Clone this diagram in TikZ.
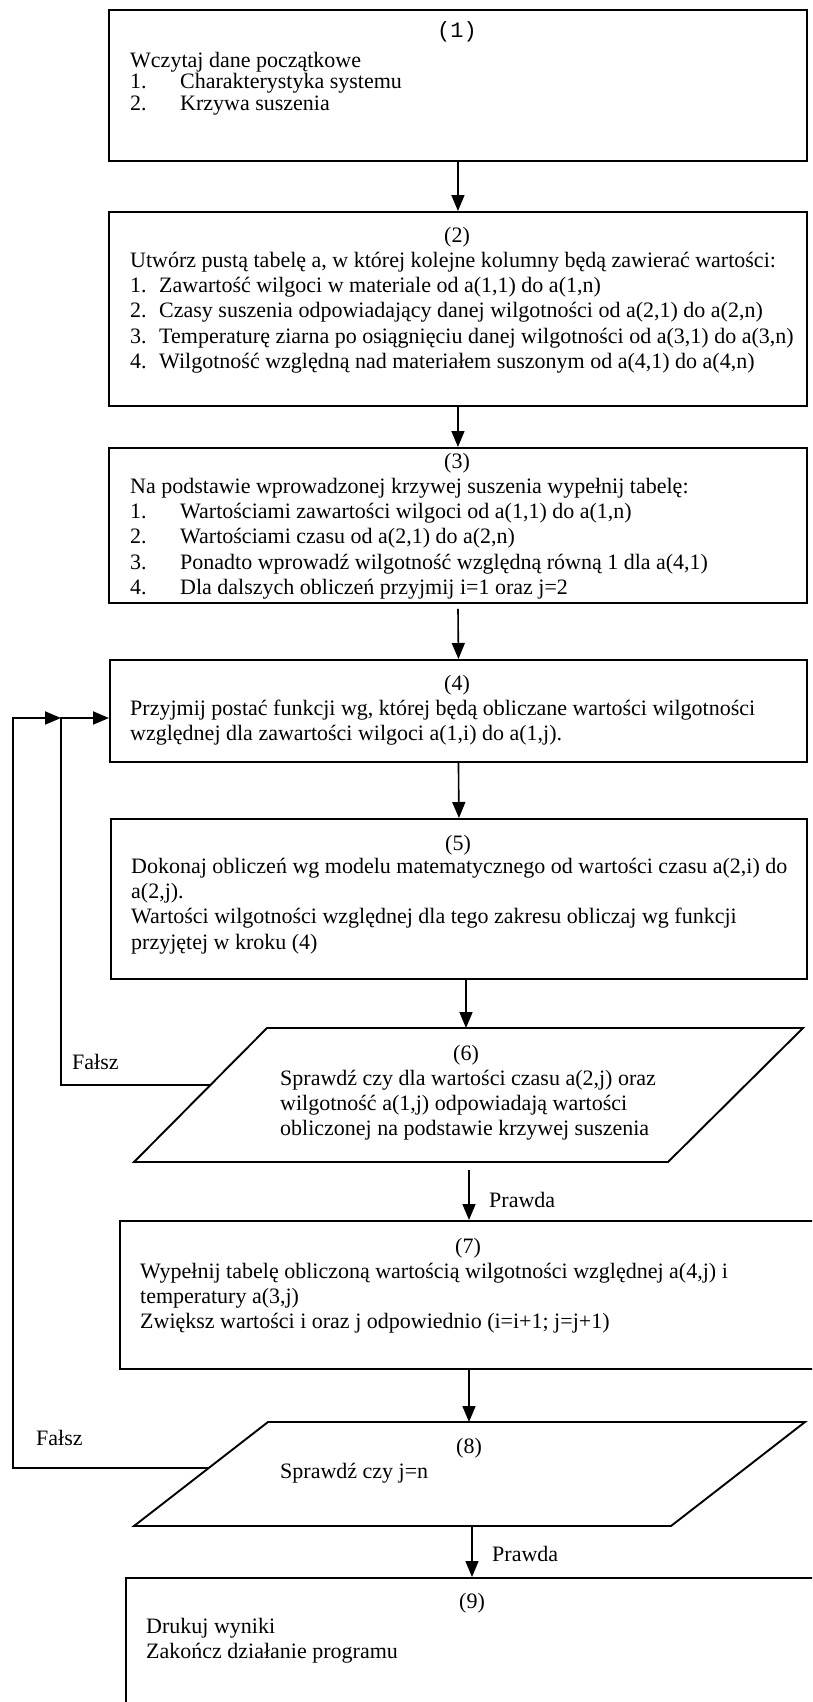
\documentclass[tikz,border=0pt]{standalone}
\usepackage{fontspec}
\setmainfont{Liberation Serif}
\newfontfamily\monofont{Liberation Mono}
\usetikzlibrary{arrows.meta,calc}
\newcommand\titem[1]{\makebox[50pt][l]{#1}}
\newcommand\sitem[1]{\makebox[29pt][l]{#1}}
\begin{document}
\begin{tikzpicture}[x=1pt,y=-1pt,
  box/.style={draw, line width=1.9pt, inner sep=0, anchor=north west},
  txt/.style={anchor=north west, align=left, inner sep=0, font=\fontsize{22}{25.2}\selectfont},
  lbl/.style={inner sep=0, font=\fontsize{22}{25.2}\selectfont},
  arr/.style={line width=1.6pt, -{Triangle[length=16pt,width=13pt]}},
  para/.style={line width=1.9pt}]
\useasboundingbox (0,0) rectangle (812,1702);
\clip (0,0) rectangle (812,1702);

% boxes
\node[box, minimum width=698pt, minimum height=151pt] (b1) at (108,9) {};
\node[box, minimum width=698pt, minimum height=194pt] (b2) at (108,211) {};
\node[box, minimum width=698pt, minimum height=155pt] (b3) at (108,447) {};
\node[box, minimum width=697pt, minimum height=102pt] (b4) at (109,659) {};
\node[box, minimum width=696pt, minimum height=160pt] (b5) at (110,818) {};
\node[box, minimum width=698pt, minimum height=148pt] (b7) at (119,1220) {};
\node[box, minimum width=694pt, minimum height=160pt] (b9) at (125,1577) {};

% parallelograms
\coordinate (p6a) at (267,1028); \coordinate (p6b) at (803,1028);
\coordinate (p6c) at (668,1162); \coordinate (p6d) at (134,1162);
\draw[para] (p6a) -- (p6b) -- (p6c) -- (p6d) -- cycle;
\coordinate (p8a) at (268,1422); \coordinate (p8b) at (805,1422);
\coordinate (p8c) at (671,1526); \coordinate (p8d) at (134,1526);
\draw[para] (p8a) -- (p8b) -- (p8c) -- (p8d) -- cycle;

% texts
\node[lbl, font=\fontsize{22}{25.2}\monofont] (n1) at (457,32) {(1)};
\node[txt, font=\fontsize{22}{21.5}\selectfont] (t1) at (130,52) {Wczytaj dane początkowe\\
\titem{1.}Charakterystyka systemu\\
\titem{2.}Krzywa suszenia};

\node[lbl] (n2) at (457,237) {(2)};
\node[txt] (t2) at (130,252) {Utwórz pustą tabelę a, w której kolejne kolumny będą zawierać wartości:\\
\sitem{1.}Zawartość wilgoci w materiale od a(1,1) do a(1,n)\\
\sitem{2.}Czasy suszenia odpowiadający danej wilgotności od a(2,1) do a(2,n)\\
\sitem{3.}Temperaturę ziarna po osiągnięciu danej wilgotności od a(3,1) do a(3,n)\\
\sitem{4.}Wilgotność względną nad materiałem suszonym od a(4,1) do a(4,n)};

\node[lbl] (n3) at (457,463) {(3)};
\node[txt] (t3) at (130,478) {Na podstawie wprowadzonej krzywej suszenia wypełnij tabelę:\\
\titem{1.}Wartościami zawartości wilgoci od a(1,1) do a(1,n)\\
\titem{2.}Wartościami czasu od a(2,1) do a(2,n)\\
\titem{3.}Ponadto wprowadź wilgotność względną równą 1 dla a(4,1)\\
\titem{4.}Dla dalszych obliczeń przyjmij i=1 oraz j=2};

\node[lbl] (n4) at (457,685) {(4)};
\node[txt] (t4) at (130,700) {Przyjmij postać funkcji wg, której będą obliczane wartości wilgotności\\
względnej dla zawartości wilgoci a(1,i) do a(1,j).};

\node[lbl] (n5) at (458,845) {(5)};
\node[txt] (t5) at (131,858) {Dokonaj obliczeń wg modelu matematycznego od wartości czasu a(2,i) do\\
a(2,j).\\
Wartości wilgotności względnej dla tego zakresu obliczaj wg funkcji\\
przyjętej w kroku (4)};

\node[lbl] (n6) at (466,1055) {(6)};
\node[txt] (t6) at (280,1070) {Sprawdź czy dla wartości czasu a(2,j) oraz\\
wilgotność a(1,j) odpowiadają wartości\\
obliczonej na podstawie krzywej suszenia};

\node[lbl] (n7) at (468,1248) {(7)};
\node[txt] (t7) at (140,1263) {Wypełnij tabelę obliczoną wartością wilgotności względnej a(4,j) i\\
temperatury a(3,j)\\
Zwiększ wartości i oraz j odpowiednio (i=i+1; j=j+1)};

\node[lbl] (n8) at (469,1448) {(8)};
\node[txt] (t8) at (280,1463) {Sprawdź czy j=n};

\node[lbl] (n9) at (472,1603) {(9)};
\node[txt] (t9) at (146,1618) {Drukuj wyniki\\
Zakończ działanie programu};

% labels
\node[lbl, anchor=west] (f6) at (72,1062) {Fałsz};
\node[lbl, anchor=west] (f8) at (36,1438) {Fałsz};
\node[lbl, anchor=west] (pr6) at (489,1200) {Prawda};
\node[lbl, anchor=west] (pr8) at (492,1554) {Prawda};

% connectors
\draw[arr] (b1.south) -- (b2.north);
\draw[arr] (b2.south) -- (b3.north);
\draw[arr, shorten <=5pt] (b3.south) -- (b4.north);
\draw[arr] (b4.south) -- (b5.north);
\coordinate (p6top) at (466,1028);
\draw[arr] ([xshift=356pt]b5.south west) -- (p6top);
\coordinate (p6bot) at (469,1170);
\draw[arr] (p6bot) -- ([xshift=350pt]b7.north west);
\coordinate (p8top) at (469,1422);
\draw[arr] ([xshift=350pt]b7.south west) -- (p8top);
\coordinate (p8bot) at (472,1527);
\draw[arr] (p8bot) -- ([xshift=347pt]b9.north west);

% loops
\coordinate (p6f) at (210,1085);
\coordinate (p8f) at (209,1468);
\coordinate (j4) at (61,718);
\coordinate (o1) at (13,718);
\draw[arr, line width=1.9pt] (p6f) -| (j4) -- (b4.west |- j4);
\draw[arr, line width=1.9pt] (p8f) -| (o1) -- (j4);
\end{tikzpicture}
\end{document}
